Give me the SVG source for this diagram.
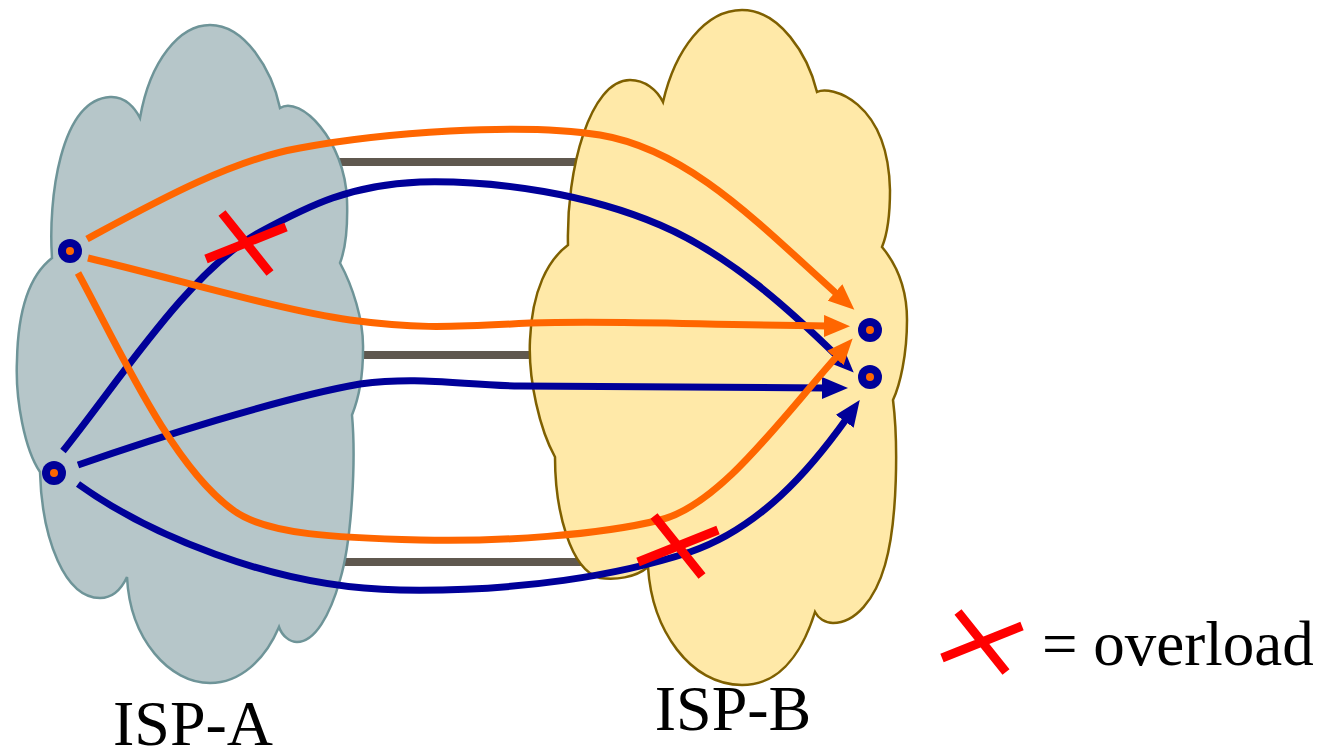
<svg xmlns="http://www.w3.org/2000/svg" width="1335" height="751" viewBox="0 0 1335 751">
  <style>
    .link { stroke: #5f584f; stroke-width: 8; fill: none; }
    .orange { stroke: #ff6600; stroke-width: 7; fill: none; }
    .navy { stroke: #000099; stroke-width: 7; fill: none; }
    .cross { stroke: #ff0000; stroke-width: 9; fill: none; }
    .label { font-family: "Liberation Serif", "Times New Roman", serif; font-size: 64px; fill: #000000; }
    .ring { fill: #000099; }
    .dot { fill: #ff6600; }
  </style>
  <defs>
    <marker id="arrow-orange" markerUnits="userSpaceOnUse" viewBox="0 0 26 22" refX="4" refY="11" markerWidth="26" markerHeight="22" orient="auto">
      <path d="M0,0 L26,11 L0,22 Z" fill="#ff6600"/>
    </marker>
    <marker id="arrow-navy" markerUnits="userSpaceOnUse" viewBox="0 0 26 22" refX="4" refY="11" markerWidth="26" markerHeight="22" orient="auto">
      <path d="M0,0 L26,11 L0,22 Z" fill="#000099"/>
    </marker>
    <path id="x-mark" class="cross" d="M-40,16 L40,-16 M-24,-30 L24,30"/>
  </defs>

  <!-- peering links between the two networks -->
  <g id="links">
    <line class="link" x1="335" y1="162" x2="580" y2="162"/>
    <line class="link" x1="358" y1="355" x2="540" y2="355"/>
    <line class="link" x1="335" y1="562" x2="595" y2="562"/>
  </g>

  <!-- ISP-A cloud -->
  <g id="isp-a">
    <path fill="#b6c6c9" stroke="#6e9498" stroke-width="2.5" d="M52,258 C48,200 60,100 110,97 C125,96 135,108 140,118 C150,60 180,25 210,25 C245,25 272,70 280,108 C300,95 345,140 347,200 C348,230 345,250 340,263 C352,285 364,320 363,350 C363,380 358,400 352,415 C356,460 352,540 340,580 C330,615 315,642 297,642 C290,642 282,636 279,627 C265,660 240,683 210,683 C170,683 130,640 127,577 C120,592 110,598 100,598 C65,598 42,540 40,472 C25,450 15,400 17,360 C18,310 30,275 52,258 Z"/>
    <text class="label" x="193" y="745" text-anchor="middle">ISP-A</text>
  </g>

  <!-- ISP-B cloud -->
  <g id="isp-b">
    <path fill="#ffe9a8" stroke="#7f6000" stroke-width="2.5" d="M568,245 C566,170 590,80 630,80 C645,80 657,90 663,102 C675,50 705,10 742,10 C780,10 808,55 817,92 C830,85 888,100 890,190 C890,215 887,235 882,247 C897,265 907,290 907,320 C907,355 900,385 893,400 C898,440 898,520 885,565 C875,600 855,623 833,623 C825,623 818,618 815,612 C800,660 775,685 742,685 C690,685 652,630 648,567 C635,578 615,580 600,578 C570,570 555,510 555,457 C540,430 528,380 530,340 C532,290 548,260 568,245 Z"/>
    <text class="label" x="733" y="730" text-anchor="middle">ISP-B</text>
  </g>

  <!-- traffic paths -->
  <g id="connectors">
    <path class="navy" marker-end="url(#arrow-navy)" d="M63,451 C120,380 190,270 260,232 C310,205 350,185 420,182 C500,180 590,195 660,225 C730,255 790,310 838,357"/>
    <path class="navy" marker-end="url(#arrow-navy)" d="M78,465 C150,440 280,398 360,384 C420,376 460,385 520,386 C620,387 720,388 826,388"/>
    <path class="navy" marker-end="url(#arrow-navy)" d="M78,484 C145,532 270,588 400,590 C520,592 620,575 690,552 C760,528 810,470 847,418"/>
    <path class="orange" marker-end="url(#arrow-orange)" d="M87,239 C150,205 230,160 300,148 C380,133 520,122 600,135 C690,150 760,225 838,295"/>
    <path class="orange" marker-end="url(#arrow-orange)" d="M88,258 C180,280 280,310 350,320 C410,328 440,328 530,323 C620,320 700,325 828,326"/>
    <path class="orange" marker-end="url(#arrow-orange)" d="M78,273 C115,340 170,465 233,510 C266,535 340,538 420,540 C500,542 600,535 660,520 C720,505 780,420 838,355"/>
  </g>

  <!-- end hosts -->
  <g id="host-a1"><circle class="ring" cx="70" cy="251" r="12"/><circle class="dot" cx="70" cy="251" r="4"/></g>
  <g id="host-a2"><circle class="ring" cx="54" cy="473" r="12"/><circle class="dot" cx="54" cy="473" r="4"/></g>
  <g id="host-b1"><circle class="ring" cx="870" cy="330" r="12"/><circle class="dot" cx="870" cy="330" r="4"/></g>
  <g id="host-b2"><circle class="ring" cx="870" cy="377" r="12"/><circle class="dot" cx="870" cy="377" r="4"/></g>

  <!-- overloaded segments -->
  <g id="overloads">
    <use href="#x-mark" x="246" y="243"/>
    <use href="#x-mark" x="678" y="546"/>
  </g>

  <!-- legend -->
  <g id="legend">
    <use href="#x-mark" x="982" y="642"/>
    <text class="label" x="1042" y="665" style="font-size:63px">= overload</text>
  </g>
</svg>
